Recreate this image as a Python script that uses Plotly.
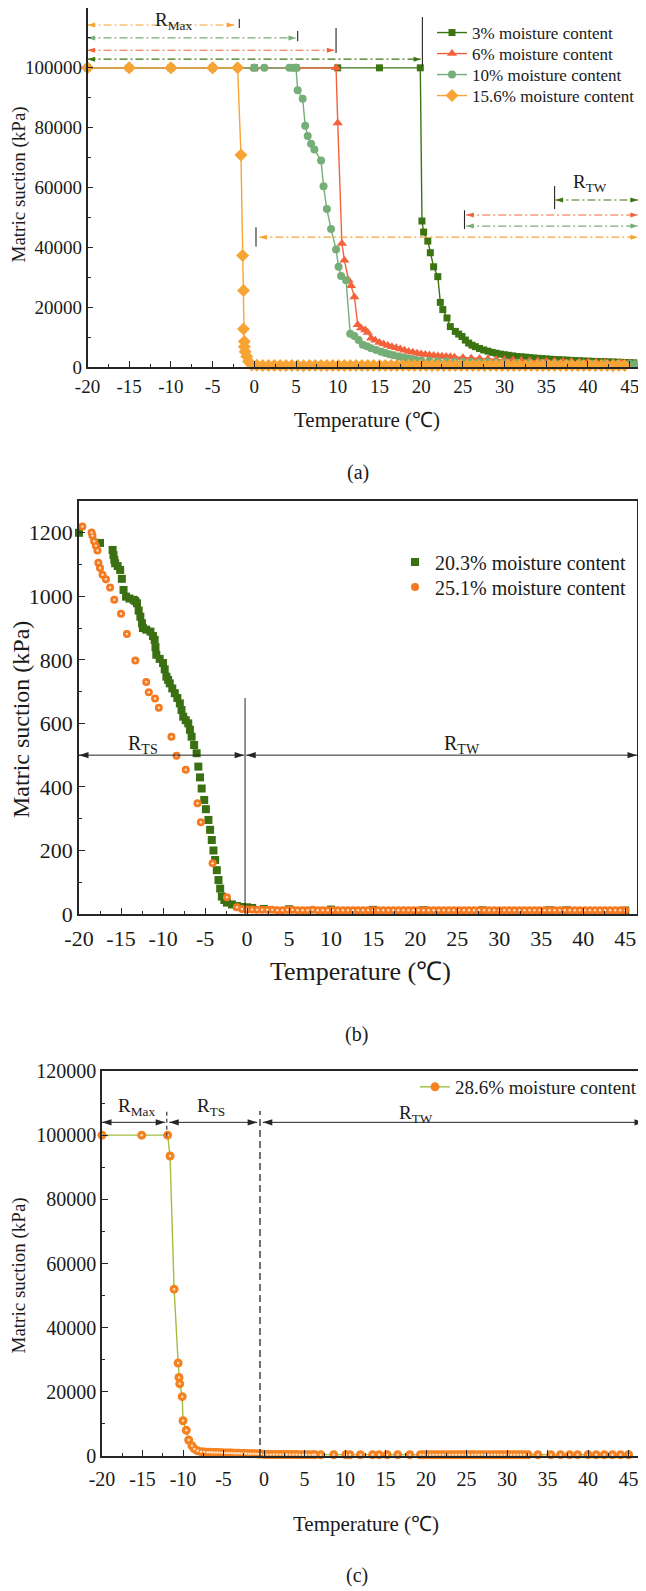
import plotly.graph_objects as go

FONT = 'Liberation Serif'
INK = '#262626'
W, H = 646, 1591
# the page body keeps its default 8px margin, so the figure is drawn 8px in from the window corner
OX, OY = 8, 8
FW, FH = W - OX, H - OY

# ---------------- (a) ----------------
temp_3 = [-20, -15, -10, -5, 0, 5, 10, 15, 19.9, 20.1, 20.3, 20.8, 21.1, 21.5, 22.0, 22.3, 22.6, 23.1, 23.5,
          24.1, 24.5, 24.9, 25.3, 25.7, 26.1, 26.5, 27.0, 27.5, 28.0, 28.5, 29.0, 29.5, 30.0, 30.5, 31.0, 31.5,
          32.0, 32.5, 33.0, 33.5, 34.0, 34.5, 35.0, 35.5, 36.0, 36.5, 37.0, 37.5, 38.0, 38.5, 39.0, 39.5, 40.0,
          40.5, 41.0, 41.5, 42.0, 42.5, 43.0, 43.5, 44.0, 44.5, 45.0, 45.5]
suction_3 = [100000, 100000, 100000, 100000, 100000, 100000, 100000, 100000, 100000, 48800, 45100, 42100, 38200,
             33500, 30200, 21600, 19200, 16400, 13500, 11900, 11000, 10200, 9000, 8000, 7300, 6800, 6200, 5700,
             5300, 4900, 4600, 4300, 4100, 3900, 3700, 3500, 3400, 3300, 3150, 3000, 2900, 2800, 2700, 2600, 2500,
             2450, 2350, 2300, 2200, 2150, 2100, 2000, 1950, 1900, 1850, 1800, 1750, 1700, 1650, 1600, 1550, 1500,
             1450, 1400]

temp_6 = [-20, -15, -10, -5, 0, 5, 9.8, 10.0, 10.5, 10.8, 11.3, 11.6, 12.0, 12.4, 12.8, 13.3, 13.6, 14.0, 14.5,
          15.0, 15.5, 16.0, 16.5, 17.0, 17.5, 18.0, 18.5, 19.0, 19.5, 20.0, 20.5, 21.0, 21.5, 22.0, 22.5, 23.0,
          23.5, 24.0, 25.0, 26.0, 27.0, 28.0, 29.0, 30.0, 31.0, 32.0, 33.0, 34.0, 35.0, 36.0, 37.0, 38.0, 39.0,
          40.0, 41.0, 42.0, 43.0, 44.0, 45.0]
suction_6 = [100000, 100000, 100000, 100000, 100000, 100000, 100000, 81600, 41300, 35700, 29000, 27200, 23400,
             14100, 13000, 12400, 11500, 9600, 8900, 8200, 7700, 7200, 6800, 6400, 6000, 5600, 5200, 4900, 4600,
             4350, 4150, 4000, 3850, 3700, 3600, 3500, 3400, 3300, 3100, 2950, 2800, 2650, 2500, 2400, 2300, 2200,
             2100, 2000, 1950, 1900, 1850, 1800, 1700, 1650, 1600, 1500, 1450, 1400, 1350]

temp_10 = [-20, 0, 1.2, 4.2, 4.6, 5.0, 5.2, 5.8, 6.1, 6.4, 6.8, 7.2, 8.0, 8.3, 8.7, 9.2, 9.8, 10.1, 10.4, 11.0,
           11.5, 12.0, 12.5, 13.0, 13.5, 14.0, 14.6, 15.2, 15.7, 16.2, 16.7, 17.3, 17.8, 18.3, 18.8, 19.3, 20.0,
           21.0, 22.0, 23.0, 24.0, 25.0, 26.0, 27.0, 28.0, 29.0, 30.0, 31.5, 33.0, 34.5, 36.0, 37.5, 39.0, 40.5,
           42.0, 43.5, 45.0, 45.6]
suction_10 = [100000, 100000, 100000, 100000, 100000, 100000, 92500, 89700, 80600, 77200, 74600, 72700, 69000,
              60400, 52800, 46100, 39300, 33500, 30400, 29000, 11100, 10400, 9000, 7400, 6900, 6300, 5700, 5100,
              4700, 4300, 3900, 3500, 3200, 2900, 2650, 2400, 2200, 2050, 1950, 1850, 1750, 1700, 1650, 1600,
              1550, 1500, 1450, 1400, 1350, 1300, 1250, 1200, 1150, 1100, 1050, 1000, 1000, 950]

temp_15 = [-20, -15, -10, -5, -2, -1.6, -1.4, -1.3, -1.3, -1.2, -1.2, -1.1, -0.9, -0.7, -0.3,
           0.3, 1.0, 1.7, 2.4, 3.1, 3.8, 4.5, 5.2, 5.9, 6.6, 7.3, 8.0, 8.7, 9.4, 10.1, 10.8, 11.5, 12.2, 12.9,
           13.6, 14.3, 15.0, 15.7, 16.4, 17.1, 17.8, 18.5, 19.2, 19.9, 20.6, 21.3, 22.0, 22.7, 23.4, 24.1, 24.8,
           25.5, 26.2, 26.9, 27.6, 28.3, 29.0, 29.7, 30.4, 31.1, 31.8, 32.5, 33.2, 33.9, 34.6, 35.3, 36.0, 36.7,
           37.4, 38.1, 38.8, 39.5, 40.2, 40.9, 41.6, 42.3, 43.0, 43.7, 44.4]
suction_15 = [100000, 100000, 100000, 100000, 100000, 70900, 37300, 25600, 12700, 8500, 6800, 5100, 3500, 1800, 700,
              550, 500, 480, 520, 460, 500, 540, 480, 450, 500, 520, 470, 500, 480, 530, 460, 500, 490, 520, 480,
              470, 510, 500, 460, 490, 530, 480, 500, 470, 510, 490, 460, 500, 520, 480, 470, 500, 490, 510, 480,
              460, 500, 520, 480, 490, 470, 500, 510, 480, 460, 500, 490, 470, 500, 480, 490, 470, 480, 460, 470,
              460, 450, 470, 460]

# ---------------- (b) ----------------
temp_20 = [-20, -17.5, -16.0, -15.9, -15.8, -15.7, -15.4, -15.1, -14.9, -14.7, -14.4, -14.0, -13.5, -13.3, -13.1,
           -12.9, -12.7, -12.5, -12.4, -12.0, -11.5, -11.2, -11.0, -10.9, -10.8, -10.4, -10.0, -9.8, -9.6, -9.4,
           -9.2, -8.9, -8.6, -8.3, -8.0, -7.8, -7.6, -7.3, -7.0, -6.8, -6.6, -6.3, -6.0, -5.8, -5.6, -5.4, -5.1,
           -4.9, -4.6, -4.4, -4.2, -4.0, -3.8, -3.6, -3.4, -3.2, -3.0, -2.7, -2.4, -1.8, -1.2, -0.6, 0.0, 0.6, 2,
           5, 10, 15, 21, 28, 36, 38, 45]
suction_20 = [1200, 1168, 1146, 1130, 1115, 1104, 1095, 1083, 1055, 1020, 999, 993, 989, 985, 978, 955, 936, 915,
              900, 895, 889, 875, 863, 840, 816, 803, 790, 770, 747, 737, 726, 710, 695, 680, 663, 642, 621, 610,
              600, 580, 558, 532, 506, 464, 430, 395, 359, 330, 296, 265, 233, 200, 170, 138, 107, 80, 55, 44, 36,
              30, 25, 22, 21, 19, 16, 15, 14, 13, 12, 12, 12, 12, 11]

temp_25 = [-19.6, -18.5, -18.4, -18.2, -18.0, -17.8, -17.7, -17.5, -17.2, -16.8, -16.3, -15.8, -15.0, -14.3, -13.3,
           -12.0, -11.7, -10.95, -10.5, -9.0, -8.4, -7.3, -5.9, -5.5, -4.1, -2.4, -1.2, -0.6,
           0.0, 0.6, 1.2, 1.8, 2.4, 3.0, 3.6, 4.2, 4.8, 5.4, 6.0, 6.6, 7.2, 7.8, 8.4, 9.0, 9.6, 10.2, 10.8, 11.4,
           12.0, 12.6, 13.2, 13.8, 14.4, 15.0, 15.6, 16.2, 16.8, 17.4, 18.0, 18.6, 19.2, 19.8, 20.4, 21.0, 21.6,
           22.2, 22.8, 23.4, 24.0, 24.6, 25.2, 25.8, 26.4, 27.0, 27.6, 28.2, 28.8, 29.4, 30.0, 30.6, 31.2, 31.8,
           32.4, 33.0, 33.6, 34.2, 34.8, 35.4, 36.0, 36.6, 37.2, 37.8, 38.4, 39.0, 39.6, 40.2, 40.8, 41.4, 42.0,
           42.6, 43.2, 43.8, 44.4, 45.0]
suction_25 = [1220, 1201, 1191, 1173, 1159, 1144, 1106, 1089, 1068, 1054, 1028, 989, 945, 881, 798, 730, 698, 678,
              649, 558, 498, 454, 349, 289, 160, 53, 21, 16,
              14, 14, 13, 13, 13, 13, 12, 12, 13, 13, 12, 12, 12, 13, 12, 12, 12, 12, 12, 12, 12, 12, 12, 12, 12,
              12, 12, 12, 12, 12, 12, 12, 12, 12, 12, 12, 12, 12, 12, 12, 12, 12, 12, 12, 12, 12, 12, 12, 12, 12,
              12, 12, 12, 12, 12, 12, 12, 12, 12, 12, 12, 12, 12, 12, 12, 12, 12, 12, 12, 12, 12, 12, 12, 12, 12,
              12]

# ---------------- (c) ----------------
temp_28 = [-20, -15.1, -11.9, -11.6, -11.1, -10.6, -10.5, -10.4, -10.1, -10.0, -9.6, -9.3, -8.9, -8.6, -8.2, -7.8,
           -7.4, -7.0, -6.7, -6.4, -6.1, -5.8, -5.5, -5.2, -4.9, -4.6, -4.3, -4.0, -3.7, -3.4, -3.1, -2.8, -2.5,
           -2.2, -1.9, -1.6, -1.3, -1.0, -0.7, -0.4,
           0.0, 0.4, 0.8, 1.2, 1.6, 2.0, 2.4, 2.8, 3.2, 3.6, 4.0, 4.4, 4.8, 5.2, 5.6, 6.0, 6.3, 7.0, 8.6, 10.1,
           10.6, 11.9, 13.4, 14.2, 15.2, 16.5, 18.0, 19.3, 19.7, 20.1, 20.5, 20.9, 21.3, 21.7, 22.1, 22.5, 22.9,
           23.3, 23.7, 24.1, 24.5, 24.9, 25.3, 25.7, 26.1, 26.5, 26.9, 27.3, 27.7, 28.1, 28.5, 28.9, 29.3, 29.7,
           30.1, 30.5, 30.9, 31.3, 31.7, 32.1, 32.6, 33.8, 35.4, 36.6, 37.7, 38.7, 40.0, 41.0, 42.0, 43.0, 44.0,
           45.0]
suction_28 = [100000, 100000, 100000, 93500, 52000, 29000, 24500, 22500, 18500, 11000, 8000, 5000, 3200, 2200, 1600,
              1350, 1250, 1200, 1150, 1120, 1090, 1060, 1030, 1000, 970, 950, 920, 900, 880, 850, 830, 800, 780,
              760, 740, 720, 700, 680, 660, 640,
              500, 480, 470, 460, 450, 450, 440, 440, 430, 430, 430, 420, 420, 420, 410, 410, 410, 400, 400, 400,
              400, 400, 400, 400, 400, 400, 400, 400, 400, 400, 400, 400, 400, 400, 400, 400, 400, 400, 400, 400,
              400, 400, 400, 400, 400, 400, 400, 400, 400, 400, 400, 400, 400, 400, 400, 400, 400, 400, 400, 400,
              400, 400, 400, 400, 400, 400, 400, 400, 400, 400, 400, 400]

temp_ticks = [-20, -15, -10, -5, 0, 5, 10, 15, 20, 25, 30, 35, 40, 45]
temp_tick_text = ['-20', '-15', '-10', '-5', '0', '5', '10', '15', '20', '25', '30', '35', '40', '45']

for a, b in [(temp_3, suction_3), (temp_6, suction_6), (temp_10, suction_10), (temp_15, suction_15),
             (temp_20, suction_20), (temp_25, suction_25), (temp_28, suction_28)]:
    assert len(a) == len(b), (len(a), len(b))


def px_x(x):
    return (x - OX) / FW


def px_y(y):
    return 1 - (y - OY) / FH


def dom_x(p0, p1):
    return [px_x(p0), px_x(p1)]


def dom_y(top, bottom):
    return [px_y(bottom), px_y(top)]


def arrow(x0, x1, y, color, dash, xa, ya, size=8, width=1.1):
    return go.Scatter(
        x=[x0, x1], y=[y, y], xaxis=xa, yaxis=ya, mode='lines+markers',
        line=dict(color=color, width=width, dash=dash),
        marker=dict(symbol='arrow', angle=[-90, 90], size=size, color=color, line=dict(width=0)),
        showlegend=False, hoverinfo='skip', cliponaxis=False
    )


def vline(x, y0, y1, xref, yref, dash='solid', color=INK, width=1.1):
    return dict(type='line', xref=xref, yref=yref, x0=x, x1=x, y0=y0, y1=y1,
                line=dict(color=color, width=width, dash=dash))


fig = go.Figure()

# panel (a) series, one legend box per entry so rows sit as tight as in the original
series_a = [
    (temp_3, suction_3, '3% moisture content', '#3c7412', 'square', 7, 'legend'),
    (temp_6, suction_6, '6% moisture content', '#f4623c', 'triangle-up', 9, 'legend4'),
    (temp_10, suction_10, '10% moisture content', '#76ae78', 'circle', 8, 'legend5'),
    (temp_15, suction_15, '15.6% moisture content', '#f8a435', 'diamond', 10, 'legend6'),
]
for t, s, name, color, sym, size, leg in series_a:
    fig.add_trace(go.Scatter(
        x=t, y=s, name=name, mode='lines+markers', xaxis='x', yaxis='y',
        line=dict(color=color, width=1.4),
        marker=dict(symbol=sym, size=size, color=color, line=dict(width=0)),
        cliponaxis=False, legend=leg
    ))

# R_Max / R_TW arrows of (a)
arrows_a = [
    (-20, -2.4, 114300, '#f8a435'),
    (-20, 5.0, 110000, '#76ae78'),
    (-20, 9.6, 105900, '#f4623c'),
    (-20, 20.0, 102900, '#3c7412'),
    (36.1, 46.0, 55800, '#3c7412'),
    (25.4, 46.0, 50800, '#f4623c'),
    (25.4, 46.0, 47100, '#76ae78'),
    (0.6, 46.0, 43400, '#f8a435'),
]
for x0, x1, y, c in arrows_a:
    fig.add_trace(arrow(x0, x1, y, c, '8px,3px,2px,3px', 'x', 'y', size=8))

shapes = [
    vline(-1.8, 113300, 116300, 'x', 'y'),
    vline(5.2, 108900, 112300, 'x', 'y'),
    vline(9.8, 105000, 113300, 'x', 'y'),
    vline(20.15, 100800, 117000, 'x', 'y'),
    vline(36.0, 52800, 60500, 'x', 'y'),
    vline(25.2, 46100, 52400, 'x', 'y'),
    vline(0.2, 40300, 46700, 'x', 'y'),
]

# panel (b)
fig.add_trace(go.Scatter(
    x=temp_20, y=suction_20, name='20.3% moisture content', mode='markers', xaxis='x2', yaxis='y2',
    marker=dict(symbol='square', size=8, color='#3a7011', line=dict(width=0)),
    cliponaxis=False, legend='legend2'
))
fig.add_trace(go.Scatter(
    x=temp_25, y=suction_25, name='25.1% moisture content', mode='markers', xaxis='x2', yaxis='y2',
    marker=dict(symbol='circle', size=8, color='#f47920', line=dict(width=0)),
    cliponaxis=False, legend='legend7'
))
fig.add_trace(go.Scatter(
    x=temp_25, y=suction_25, mode='markers', xaxis='x2', yaxis='y2', showlegend=False, hoverinfo='skip',
    marker=dict(symbol='circle', size=2.5, color='rgba(255,232,205,0.9)', line=dict(width=0)),
    cliponaxis=False
))
fig.add_trace(arrow(-20, -0.35, 500, INK, 'solid', 'x2', 'y2', size=10, width=1))
fig.add_trace(arrow(-0.1, 46.4, 500, INK, 'solid', 'x2', 'y2', size=10, width=1))
shapes.append(vline(-0.24, 0, 680, 'x2', 'y2', width=1))

# panel (c)
fig.add_trace(go.Scatter(
    x=temp_28, y=suction_28, name='28.6% moisture content', mode='lines+markers', xaxis='x3', yaxis='y3',
    line=dict(color='#a2bd3f', width=1.4),
    marker=dict(symbol='circle', size=9, color='#f58220', line=dict(width=0)),
    cliponaxis=False, legend='legend3'
))
fig.add_trace(go.Scatter(
    x=temp_28, y=suction_28, mode='markers', xaxis='x3', yaxis='y3', showlegend=False, hoverinfo='skip',
    marker=dict(symbol='circle', size=2.5, color='rgba(255,232,205,0.9)', line=dict(width=0)),
    cliponaxis=False
))
fig.add_trace(arrow(-20, -12.2, 104000, INK, 'solid', 'x3', 'y3', size=10, width=1))
fig.add_trace(arrow(-11.7, -0.85, 104000, INK, 'solid', 'x3', 'y3', size=10, width=1))
fig.add_trace(arrow(-0.15, 46.9, 104000, INK, 'solid', 'x3', 'y3', size=10, width=1))
shapes.append(vline(-0.5, 0, 107500, 'x3', 'y3', dash='7px,4px', width=1.3))
shapes.append(vline(-12.0, 99500, 107500, 'x3', 'y3', dash='4px,3px', width=1.1))


def x_axis(rng, domain, anchor, size, standoff=0):
    return dict(
        range=rng, domain=domain, anchor=anchor, tickmode='array', tickvals=temp_ticks, ticktext=temp_tick_text,
        showline=True, linecolor=INK, linewidth=1.5, mirror=True, ticks='inside', ticklen=6, tickwidth=1.2,
        tickcolor=INK, showgrid=False, zeroline=False, automargin=False, ticklabelstandoff=standoff,
        tickfont=dict(family=FONT, size=size, color='#1a1a1a'),
        minor=dict(ticks='inside', ticklen=3.5, tickwidth=1, tickcolor=INK, dtick=2.5, tick0=-20, showgrid=False)
    )


def y_axis(rng, domain, anchor, size, dtick, minor):
    return dict(
        range=rng, domain=domain, anchor=anchor, dtick=dtick, tick0=0, tickformat='d',
        showline=True, linecolor=INK, linewidth=1.5, mirror=True, ticks='inside', ticklen=6, tickwidth=1.2,
        tickcolor=INK, showgrid=False, zeroline=False, automargin=False,
        tickfont=dict(family=FONT, size=size, color='#1a1a1a'),
        minor=dict(ticks='inside', ticklen=3.5, tickwidth=1, tickcolor=INK, dtick=minor, showgrid=False)
    )


def txt(text, x, y, size, xref='paper', yref='paper', angle=0):
    if xref == 'paper':
        x, y = px_x(x), px_y(y)
    return dict(text=text, x=x, y=y, xref=xref, yref=yref, showarrow=False, textangle=angle,
                xanchor='center', yanchor='middle', font=dict(family=FONT, size=size, color='#1a1a1a'))


def leg(text_x, mid_y, size):
    # default item: symbol from +5 to +35, entry text from +40
    return dict(x=px_x(text_x - 40), y=px_y(mid_y), xanchor='left', yanchor='middle',
                bgcolor='rgba(0,0,0,0)', borderwidth=0, tracegroupgap=0,
                font=dict(family=FONT, size=size, color='#1a1a1a'))


annotations = [
    # (a)
    txt('Matric suction (kPa)', 18.5, 185, 19, angle=-90),
    txt('Temperature (℃)', 367, 420, 21),
    txt('(a)', 358, 472, 20),
    txt('R<sub>Max</sub>', -9.7, 115600, 19, 'x', 'y'),
    txt('R<sub>TW</sub>', 40.3, 61500, 19, 'x', 'y'),
    # (b)
    txt('Matric suction (kPa)', 21, 720, 24, angle=-90),
    txt('Temperature (℃)', 361, 971, 26),
    txt('(b)', 356, 1034, 20),
    txt('R<sub>TS</sub>', -12.4, 535, 20, 'x2', 'y2'),
    txt('R<sub>TW</sub>', 25.6, 535, 20, 'x2', 'y2'),
    # (c)
    txt('Matric suction (kPa)', 18.5, 1276, 19, angle=-90),
    txt('Temperature (℃)', 366, 1524, 21),
    txt('(c)', 357, 1575, 20),
    txt('R<sub>Max</sub>', -15.7, 108800, 19, 'x3', 'y3'),
    txt('R<sub>TS</sub>', -6.5, 108800, 19, 'x3', 'y3'),
    txt('R<sub>TW</sub>', 18.8, 106600, 19, 'x3', 'y3'),
]

fig.update_layout(
    template='none',
    width=FW, height=FH, margin=dict(l=0, r=0, t=0, b=0, autoexpand=False),
    paper_bgcolor='white', plot_bgcolor='white',
    font=dict(family=FONT, color='#1a1a1a'),
    xaxis=x_axis([-20, 46.0], dom_x(87.5, 638), 'y', 19, 1),
    yaxis=y_axis([0, 120000], dom_y(8, 367), 'x', 19, 20000, 10000),
    xaxis2=x_axis([-20, 46.4], dom_x(79, 637), 'y2', 22, 4),
    yaxis2=y_axis([0, 1300], dom_y(501, 914), 'x2', 22, 200, 100),
    xaxis3=x_axis([-20, 46.9], dom_x(102, 644), 'y3', 20, 4),
    yaxis3=y_axis([0, 120000], dom_y(1071, 1456), 'x3', 20, 20000, 10000),
    legend=leg(472, 33, 17),
    legend4=leg(472, 54, 17),
    legend5=leg(472, 75, 17),
    legend6=leg(472, 96, 17),
    legend2=leg(435, 562, 20),
    legend7=leg(435, 587, 20),
    legend3=leg(455, 1087, 19),
    shapes=shapes,
    annotations=annotations,
)

fig.write_html("out.html")
